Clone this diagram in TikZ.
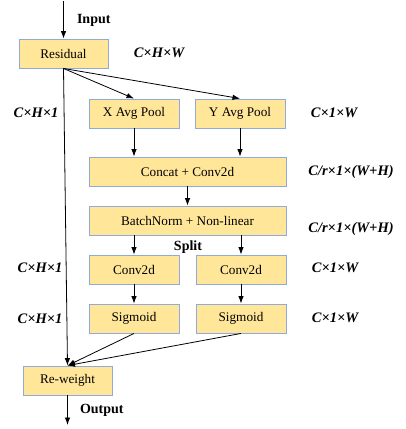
\documentclass[tikz,border=0pt]{standalone}
\usepackage{fontspec}
\setmainfont{Liberation Serif}
\usetikzlibrary{arrows.meta}
\definecolor{boxfill}{HTML}{FFE699}
\definecolor{boxline}{HTML}{8FAADC}
\tikzset{
	box/.style={draw=boxline, fill=boxfill, line width=0.9pt, minimum height=29pt, inner sep=0pt, font=\fontsize{13.2}{15}\selectfont},
	dimlabel/.style={font=\fontsize{14.5}{17}\selectfont\bfseries\itshape},
	flow/.style={-{Latex[length=7.5pt,width=5.5pt]}, line width=0.8pt}
}
\begin{document}
\begin{tikzpicture}[x=1pt,y=-1pt]
		\useasboundingbox (0,0) rectangle (406,429);
		% boxes
		\node[box, minimum width=89pt] (res) at (63.5,53.5) {Residual};
		\node[box, minimum width=90pt] (xpool) at (134,113.5) {X Avg Pool};
		\node[box, minimum width=90pt] (ypool) at (240,113.5) {Y Avg Pool};
		\node[box, minimum width=197pt] (cat) at (187.5,171.5) {Concat + Conv2d};
		\node[box, minimum width=197pt] (bn) at (187.5,220.5) {BatchNorm + Non-linear};
		\node[box, minimum width=90pt] (convx) at (134,269.5) {Conv2d};
		\node[box, minimum width=90pt] (convy) at (241,269.5) {Conv2d};
		\node[box, minimum width=90pt] (sigx) at (134,318.5) {Sigmoid};
		\node[box, minimum width=90pt] (sigy) at (241,318.5) {Sigmoid};
		\node[box, minimum width=89pt] (rw) at (67.5,380.5) {Re-weight};
		% in / out
		\coordinate (in) at (63.5,1);
		\coordinate (out) at (67.5,425);
		\node[anchor=west, font=\fontsize{14}{16}\selectfont\bfseries] (intext) at (73.5,20) {Input};
		\node[anchor=west, font=\fontsize{14}{16}\selectfont\bfseries] (outtext) at (76.5,410) {Output};
		\node[font=\fontsize{14}{16}\selectfont\bfseries] (split) at (188,247) {Split};
		% sizes
		\node[dimlabel] (d1) at (159,53) {C×H×W};
		\node[dimlabel] (d2) at (36,113) {C×H×1};
		\node[dimlabel] (d3) at (334,113) {C×1×W};
		\node[dimlabel] (d4) at (351,172) {C/r×1×(W+H)};
		\node[dimlabel] (d5) at (351,229) {C/r×1×(W+H)};
		\node[dimlabel] (d6) at (40,268) {C×H×1};
		\node[dimlabel] (d7) at (335,268) {C×1×W};
		\node[dimlabel] (d8) at (40,319) {C×H×1};
		\node[dimlabel] (d9) at (335,318) {C×1×W};
		% arrows
		\draw[flow] (in) -- (res.north);
		\draw[flow] (res.south) -- (xpool.north);
		\draw[flow] (res.south) -- (ypool.north);
		\draw[flow] (res.south) -- (rw.north);
		\draw[flow] (xpool.south) -- (xpool.south |- cat.north);
		\draw[flow] (ypool.south) -- (ypool.south |- cat.north);
		\draw[flow] (cat.south) -- (bn.north);
		\draw[flow] (convx.north |- bn.south) -- (convx.north);
		\draw[flow] (convy.north |- bn.south) -- (convy.north);
		\draw[flow] (convx.south) -- (sigx.north);
		\draw[flow] (convy.south) -- (sigy.north);
		\draw[flow] (sigx.south) -- (rw.north);
		\draw[flow] (sigy.south) -- (rw.north);
		\draw[flow] (rw.south) -- (out);
	\end{tikzpicture}
\end{document}
